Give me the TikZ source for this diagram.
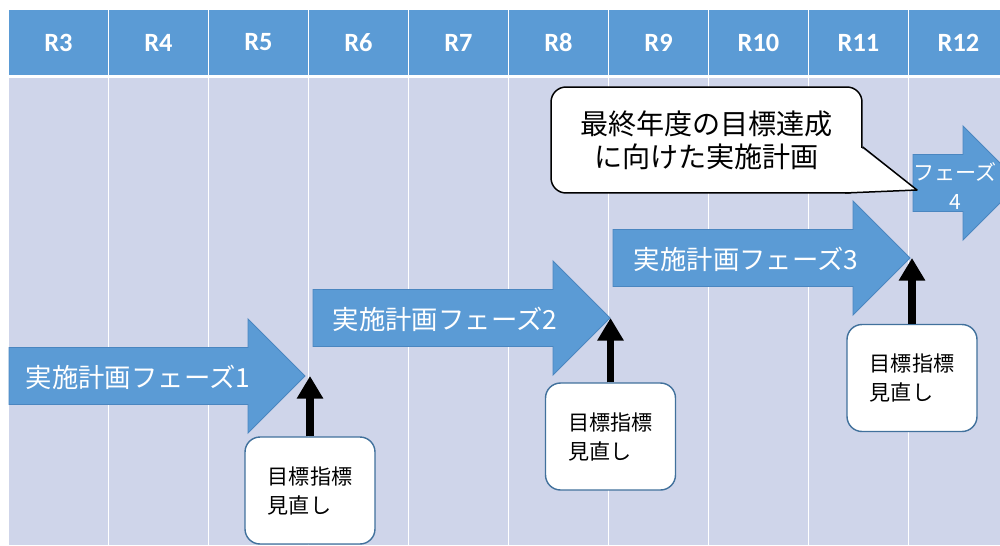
\documentclass[tikz,border=0pt]{standalone}
\usepackage{fontspec}
\setmainfont{Noto Sans CJK JP}
\newfontfamily\hdrfont{Carlito}
\usetikzlibrary{arrows.meta}
\definecolor{hdrblue}{HTML}{5B9BD5}
\definecolor{cellgray}{HTML}{CFD5EA}
\definecolor{phaseblue}{HTML}{5B9BD5}
\definecolor{phaseedge}{HTML}{4A86C0}
\definecolor{boxedge}{HTML}{41719C}

\begin{document}
\begin{tikzpicture}[x=0.02cm, y=-0.02cm,
    hdr/.style={font=\hdrfont\bfseries\fontsize{15}{18}\selectfont, text=white},
    phase/.style={fill=phaseblue, draw=phaseedge, line width=0.5pt},
    phasetext/.style={text=white, font=\fontsize{15}{18}\selectfont, inner sep=0pt},
    review/.style={draw=boxedge, fill=white, line width=0.8pt, rounded corners=0.3cm,
                   minimum width=2.6cm, minimum height=2.14cm, align=left,
                   font=\fontsize{12}{16.5}\selectfont},
    up/.style={-{Triangle[width=0.5cm,length=0.45cm]}, line width=4.5pt},
    goalbox/.style={draw, fill=white, line width=0.85pt, rounded corners=0.3cm,
                    minimum width=6.22cm, minimum height=2.12cm, align=center,
                    font=\fontsize{16}{19}\selectfont}
  ]
    \useasboundingbox (0,0) rectangle (1000,545);
    \clip (0,0) rectangle (1000,545);

    % year columns
    \foreach \i [count=\k from 0] in {3,...,12} {
      \fill[hdrblue]  (9+\k*100,10) rectangle (108+\k*100,75);
      \fill[cellgray] (9+\k*100,78) rectangle (108+\k*100,545);
      \node[hdr] (yr\i) at (58.5+\k*100,42.5) {R\i};
    }

    % phase arrows
    \foreach \xa/\xs/\yc/\n in {9/248/376/1, 313/553/318/2, 613/853/258/3, 913/963/183/4} {
      \draw[phase] (\xa,\yc-28.5) -- (\xs,\yc-28.5) -- (\xs,\yc-57) -- (\xs+57,\yc)
        -- (\xs,\yc+57) -- (\xs,\yc+28.5) -- (\xa,\yc+28.5) -- cycle;
      \coordinate (tip\n) at (\xs+57,\yc);
    }
    \node[phasetext] (ph1) at (138,377) {実施計画フェーズ1};
    \node[phasetext] (ph2) at (445,319) {実施計画フェーズ2};
    \node[phasetext] (ph3) at (746,259) {実施計画フェーズ3};
    \node[phasetext, align=center, font=\fontsize{12}{16}\selectfont] (ph4) at (955,186) {フェーズ\\4};

    % target review
    \node[review] (rev1) at (310,490.5) {目標指標\\見直し};
    \node[review] (rev2) at (610.5,436.5) {目標指標\\見直し};
    \node[review] (rev3) at (912,378) {目標指標\\見直し};
    \draw[up] (rev1.north) -- (rev1.north |- tip1);
    \draw[up] (rev2.north) -- (rev2.north |- tip2);
    \draw[up] (rev3.north) -- (rev3.north |- tip3);

    % callout to phase 4
    \node[goalbox] (goal) at (706.5,140) {最終年度の目標達成\\に向けた実施計画};
    \coordinate (goaltip) at (917,190);
    \fill[white] (861.5,148) -- (goaltip) -- (845,192.4) -- (845,148) -- cycle;
    \draw[line width=0.85pt, line join=round] (goal.east |- 0,147) -- (goaltip) -- (845,193);
\end{tikzpicture}
\end{document}
